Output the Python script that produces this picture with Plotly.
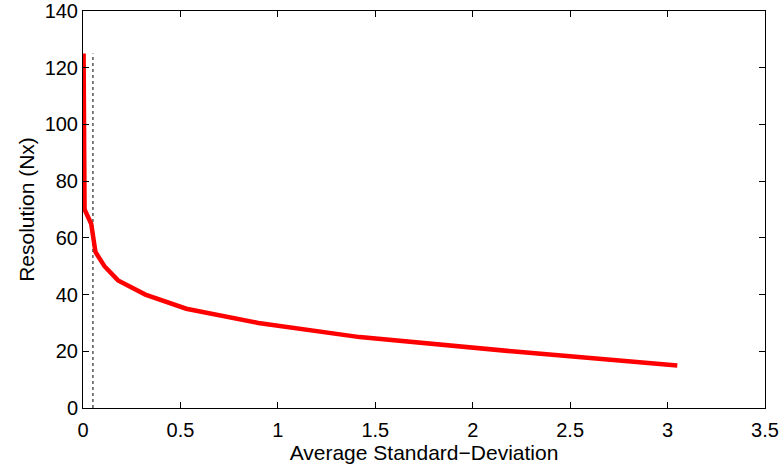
import plotly.graph_objects as go

std_dev = [0.003, 0.005, 0.008, 0.042, 0.064, 0.11, 0.18, 0.32, 0.53, 0.9, 1.42, 2.2, 3.05]
resolution = [125, 100, 70, 65, 55, 50, 45, 40, 35, 30, 25, 20, 15]
threshold_x = [0.051, 0.051]
threshold_y = [0, 125]

fig = go.Figure()
fig.add_trace(go.Scatter(x=threshold_x, y=threshold_y, mode="lines",
                         line=dict(color="black", width=1, dash="dot"), showlegend=False))
fig.add_trace(go.Scatter(x=std_dev, y=resolution, mode="lines",
                         line=dict(color="#ff0000", width=4.5), showlegend=False))

axis_common = dict(showline=True, linecolor="black", linewidth=1, mirror="ticks",
                   ticks="inside", ticklen=6, tickcolor="black", showgrid=False,
                   zeroline=False, tickfont=dict(size=20, color="black"),
                   ticklabeloverflow="allow", automargin=False)
fig.update_xaxes(range=[0, 3.5], dtick=0.5, ticklabelstandoff=4,
                 title=dict(text="Average Standard\u2212Deviation",
                 font=dict(size=21, color="black"), standoff=1), **axis_common)
fig.update_yaxes(range=[0, 140], dtick=20, title=dict(text="Resolution (Nx)",
                 font=dict(size=21, color="black"), standoff=4), **axis_common)
fig.update_layout(width=781, height=474, margin=dict(l=83, r=16, t=11, b=66),
                  plot_bgcolor="white", paper_bgcolor="white",
                  font=dict(family="Liberation Sans, Arial, sans-serif"))
fig.write_html("out.html")
